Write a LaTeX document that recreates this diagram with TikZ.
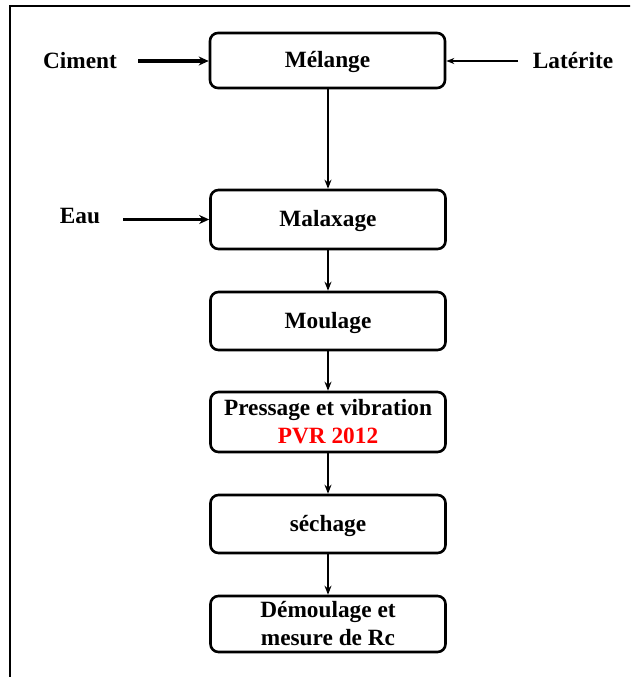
\documentclass[tikz,border=0pt]{standalone}
\usepackage{fontspec}
\setmainfont{Liberation Serif}
\usetikzlibrary{arrows.meta}
\begin{document}
\begin{tikzpicture}[x=1pt,y=-1pt,
  box/.style={draw,line width=2.6pt,rounded corners=8pt,minimum width=235pt,inner sep=0pt,align=center,
    font=\fontsize{23.3}{28}\selectfont\bfseries},
  one/.style={text height=16pt,text depth=2pt},
  lbl/.style={font=\fontsize{23.3}{28}\selectfont\bfseries,inner sep=0pt,text height=16pt,text depth=2pt},
  flow/.style={line width=2pt,-{Stealth[length=9pt,width=7pt]}},
  thick arrow/.style={line width=3.2pt,-{Stealth[length=10pt,width=9pt]}},
  thin arrow/.style={line width=1.6pt,-{Stealth[length=8pt,width=6pt]}}]
\useasboundingbox (0,0) rectangle (630,677);
\clip (0,0) rectangle (630,677);
\draw[line width=2pt] (10,6.5) rectangle (660,700);
\node[box,one,minimum height=55pt] (mel) at (327.5,60.5) {Mélange};
\node[box,one,minimum height=59pt] (mal) at (328,219.5) {Malaxage};
\node[box,one,minimum height=58pt] (mou) at (328,321) {Moulage};
\node[box,minimum height=60pt] (pre) at (328,422) {Pressage et vibration\\\textcolor{red}{PVR 2012}};
\node[box,one,minimum height=58pt] (sec) at (328,524) {séchage};
\node[box,minimum height=56pt] (dem) at (328,624) {Démoulage et\\mesure de Rc};
\node[lbl] (cim) at (80,61) {Ciment};
\node[lbl] (lat) at (573,61) {Latérite};
\node[lbl] (eau) at (80,216) {Eau};
\coordinate (cims) at (138,61);
\coordinate (lats) at (518,61);
\coordinate (eaus) at (123,219.5);
\draw[thick arrow] (cims) -- (mel.west|-cims);
\draw[thin arrow] (lats) -- (mel.east|-lats);
\draw[thick arrow] (eaus) -- (mal.west|-eaus);
\draw[flow] (mel.south-|328,0) -- (mal.north-|328,0);
\draw[flow] (mal) -- (mou);
\draw[flow] (mou) -- (pre);
\draw[flow] (pre) -- (sec);
\draw[flow] (sec) -- (dem);
\end{tikzpicture}
\end{document}
